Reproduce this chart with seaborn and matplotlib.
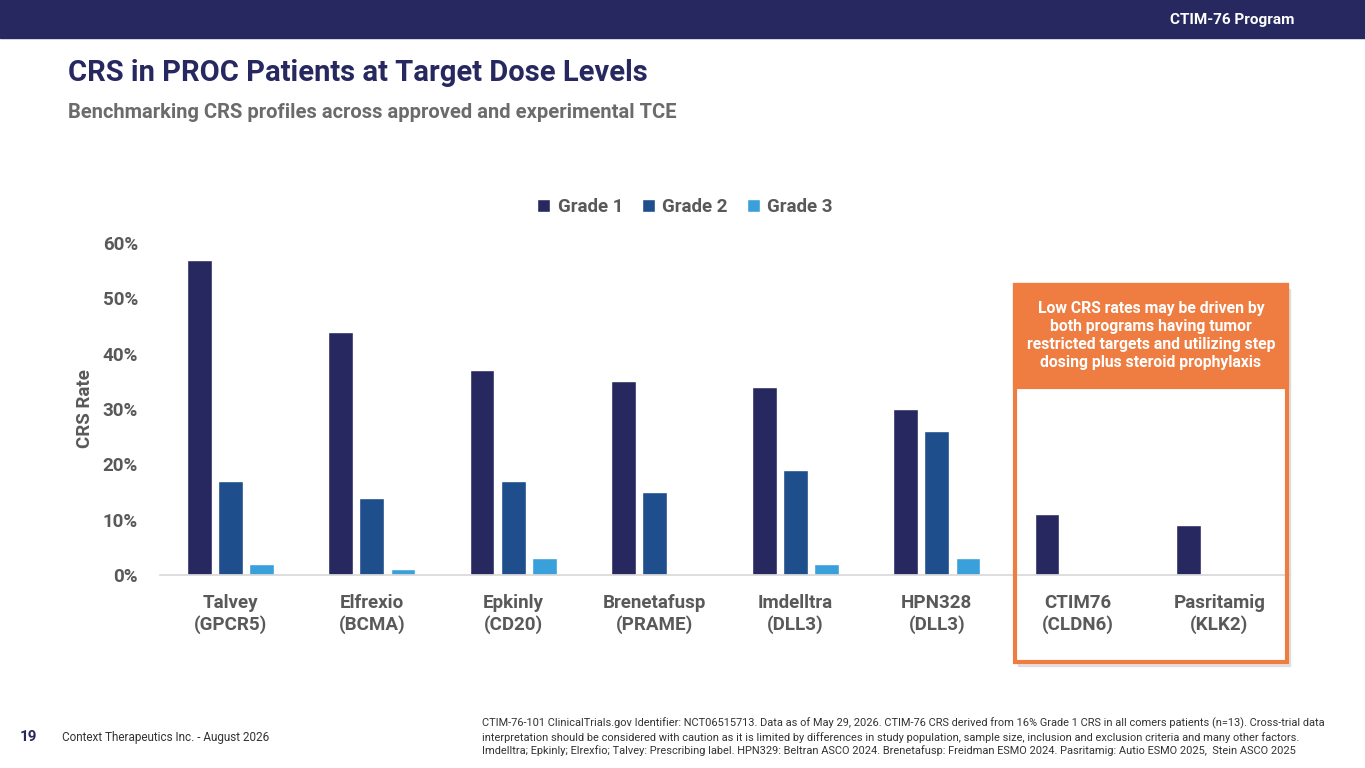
import matplotlib
matplotlib.use("Agg")
import matplotlib.pyplot as plt
from matplotlib.patches import Rectangle
import pandas as pd
import seaborn as sns

# data
drugs = ["Talvey\n(GPCR5)", "Elfrexio\n(BCMA)", "Epkinly\n(CD20)", "Brenetafusp\n(PRAME)",
         "Imdelltra\n(DLL3)", "HPN328\n(DLL3)", "CTIM76\n(CLDN6)", "Pasritamig\n(KLK2)"]
grades = ["Grade 1", "Grade 2", "Grade 3"]
grade1 = [0.57, 0.44, 0.37, 0.35, 0.34, 0.30, 0.11, 0.09]
grade2 = [0.17, 0.14, 0.17, 0.15, 0.19, 0.26, 0.0, 0.0]
grade3 = [0.02, 0.01, 0.03, 0.0, 0.02, 0.03, 0.0, 0.0]
yticks = [0, 0.1, 0.2, 0.3, 0.4, 0.5, 0.6]

navy = "#27285F"
pal = ["#27285F", "#1F4E8C", "#3AA0DC"]
orange = "#EF7C40"
grey = "#595959"

df = pd.DataFrame({
    "drug": drugs * 3,
    "grade": [g for g in grades for _ in drugs],
    "rate": grade1 + grade2 + grade3,
})

sns.set_theme(style="white")
plt.rcParams["font.family"] = ["Roboto", "DejaVu Sans"]

fig = plt.figure(figsize=(13.65, 7.68), dpi=100)

# header band
fig.patches.append(Rectangle((0, 1 - 38 / 768), 1, 38 / 768, transform=fig.transFigure,
                             color=navy, zorder=0))
fig.text(1295 / 1365, 1 - 20 / 768, "CTIM-76 Program", color="white", fontsize=11,
         fontweight="bold", ha="right", va="center")
fig.text(68 / 1365, 1 - 73 / 768, "CRS in PROC Patients at Target Dose Levels", color=navy,
         fontsize=21, fontweight="bold", ha="left", va="center")
fig.text(68 / 1365, 1 - 113 / 768, "Benchmarking CRS profiles across approved and experimental TCE",
         color="#6B6B6B", fontsize=14.5, fontweight="bold", ha="left", va="center")

ax = fig.add_axes([160 / 1365, 1 - 575 / 768, 1130 / 1365, 332 / 768])
sns.barplot(data=df, x="drug", y="rate", hue="grade", palette=pal, width=0.66, gap=0.2,
            saturation=1, ax=ax)
ax.set_xlim(-0.5, 7.5)
ax.set_ylim(0, 0.6)
ax.set_yticks(yticks)
ax.set_yticklabels([f"{int(round(v * 100))}%" for v in yticks])
ax.set_xlabel("")
ax.set_ylabel("CRS Rate", fontsize=13.5, fontweight="bold", color=grey, labelpad=6)
for s in ["top", "right", "left"]:
    ax.spines[s].set_visible(False)
ax.spines["bottom"].set_color("#D9D9D9")
ax.tick_params(axis="x", length=0, pad=14, labelsize=13.5, labelcolor=grey)
ax.tick_params(axis="y", length=0, pad=16, labelsize=13.5, labelcolor=grey)
for lab in ax.get_xticklabels() + ax.get_yticklabels():
    lab.set_fontweight("bold")

leg = ax.legend(loc="center", bbox_to_anchor=(525 / 1130, 1 + 36 / 332), ncol=3, frameon=False,
                fontsize=13.5, handlelength=0.7, handleheight=0.7, handletextpad=0.4,
                columnspacing=1.0)
for t in leg.get_texts():
    t.set_color(grey)
    t.set_fontweight("bold")

# orange call-out box around CTIM76 / Pasritamig
bx0, bx1 = 1015 / 1365, 1287 / 1365
by0, by1 = 1 - 662 / 768, 1 - 285 / 768
fig.patches.append(Rectangle((bx0 + 0.002, by0 - 0.005), bx1 - bx0, by1 - by0,
                             transform=fig.transFigure, color="#C8C8C8", alpha=0.5, zorder=3))
fig.patches.append(Rectangle((bx0, by0), bx1 - bx0, by1 - by0, transform=fig.transFigure,
                             facecolor="none", edgecolor=orange, linewidth=3, zorder=5))
fig.patches.append(Rectangle((bx0, 1 - 387 / 768), bx1 - bx0, 102 / 768, transform=fig.transFigure,
                             facecolor=orange, edgecolor=orange, linewidth=3, zorder=5))
fig.text((bx0 + bx1) / 2, 1 - 336 / 768,
         "Low CRS rates may be driven by\nboth programs having tumor\nrestricted targets and utilizing step\ndosing plus steroid prophylaxis",
         color="white", fontsize=11.3, fontweight="bold", ha="center", va="center",
         linespacing=1.25, zorder=6)
# white inside the box behind the bars
fig.patches.append(Rectangle((bx0, by0), bx1 - bx0, 1 - 387 / 768 - by0, transform=fig.transFigure,
                             facecolor="white", edgecolor="none", zorder=4))
ax.set_zorder(4.5)
ax.patch.set_alpha(0)

# footer
fig.text(20 / 1365, 1 - 737 / 768, "19", color=navy, fontsize=11, fontweight="bold",
         ha="left", va="center")
fig.text(62 / 1365, 1 - 737 / 768, "Context Therapeutics Inc. - August 2026", color="#333333",
         fontsize=8.5, ha="left", va="center")
foot = ("CTIM-76-101 ClinicalTrials.gov Identifier: NCT06515713. Data as of May 29, 2026. CTIM-76 CRS derived from 16% Grade 1 CRS in all comers patients (n=13). Cross-trial data\n"
        "interpretation should be considered with caution as it is limited by differences in study population, sample size, inclusion and exclusion criteria and many other factors.\n"
        "Imdelltra; Epkinly; Elrexfio; Talvey: Prescribing label. HPN329: Beltran ASCO 2024. Brenetafusp: Freidman ESMO 2024. Pasritamig: Autio ESMO 2025,  Stein ASCO 2025")
fig.text(482 / 1365, 1 - 737 / 768, foot, color="#333333", fontsize=7.9, ha="left", va="center",
         linespacing=1.3)

fig.savefig("out.png", dpi=100)
